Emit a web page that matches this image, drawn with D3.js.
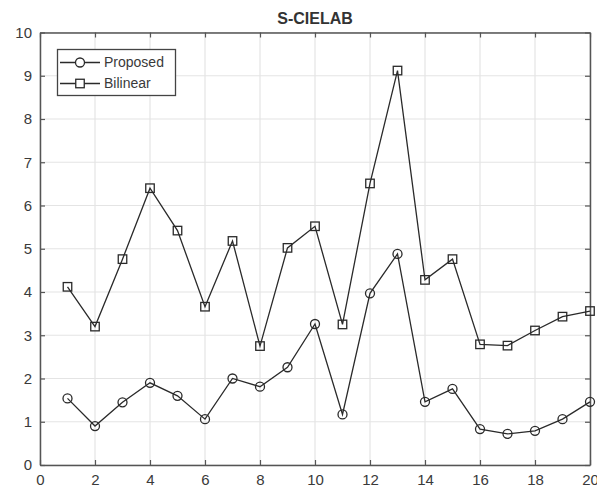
<!DOCTYPE html>
<html>
<head>
<meta charset="utf-8">
<script src="https://cdn.jsdelivr.net/npm/d3@7"></script>
<style>
  html, body { margin: 0; padding: 0; background: #fff; }
  svg text { font-family: "Liberation Sans", Arial, Helvetica, sans-serif; }
</style>
</head>
<body>
<div id="chart"></div>
<script>
// Image index 1..20
const imageIndex = d3.range(1, 21);
const proposed = [1.54, 0.90, 1.45, 1.90, 1.60, 1.06, 2.00, 1.81, 2.26, 3.26,
                  1.17, 3.97, 4.88, 1.46, 1.76, 0.83, 0.72, 0.79, 1.06, 1.46];
const bilinear = [4.12, 3.20, 4.76, 6.40, 5.42, 3.66, 5.18, 2.75, 5.02, 5.52,
                  3.25, 6.51, 9.12, 4.28, 4.76, 2.79, 2.76, 3.11, 3.43, 3.56];
const xTicks = [0, 2, 4, 6, 8, 10, 12, 14, 16, 18, 20];
const yTicks = [0, 1, 2, 3, 4, 5, 6, 7, 8, 9, 10];
const seriesNames = ["Proposed", "Bilinear"];
const chartTitle = "S-CIELAB";

const W = 597, H = 495;
const margin = { left: 40, right: 7, top: 32.5, bottom: 30 };
const iw = W - margin.left - margin.right;
const ih = H - margin.top - margin.bottom;

const svg = d3.select("#chart").append("svg")
  .attr("width", W).attr("height", H);

const x = d3.scaleLinear().domain([0, 20]).range([margin.left, margin.left + iw]);
const y = d3.scaleLinear().domain([0, 10]).range([margin.top + ih, margin.top]);

const textColor = "#3a3a3a";
const axisColor = "#555";

// grid
const grid = svg.append("g");
grid.selectAll("line.gx").data(xTicks).join("line")
  .attr("x1", d => x(d)).attr("x2", d => x(d))
  .attr("y1", y(0)).attr("y2", y(10))
  .attr("stroke", "#e4e4e4").attr("stroke-width", 1.2);
grid.selectAll("line.gy").data(yTicks).join("line")
  .attr("y1", d => y(d)).attr("y2", d => y(d))
  .attr("x1", x(0)).attr("x2", x(20))
  .attr("stroke", "#e4e4e4").attr("stroke-width", 1.2);

// axes with inward ticks on all four sides
const tickLen = 5;
const axB = svg.append("g").attr("transform", `translate(0,${y(0)})`)
  .call(d3.axisBottom(x).tickValues(xTicks).tickSizeInner(-tickLen).tickSizeOuter(0).tickPadding(9));
const axT = svg.append("g").attr("transform", `translate(0,${y(10)})`)
  .call(d3.axisTop(x).tickValues(xTicks).tickSizeInner(-tickLen).tickSizeOuter(0).tickFormat(""));
const axL = svg.append("g").attr("transform", `translate(${x(0)},0)`)
  .call(d3.axisLeft(y).tickValues(yTicks).tickSizeInner(-tickLen).tickSizeOuter(0).tickPadding(8));
const axR = svg.append("g").attr("transform", `translate(${x(20)},0)`)
  .call(d3.axisRight(y).tickValues(yTicks).tickSizeInner(-tickLen).tickSizeOuter(0).tickFormat(""));

[axB, axT, axL, axR].forEach(a => {
  a.select(".domain").attr("stroke", axisColor).attr("stroke-width", 1.5);
  a.selectAll(".tick line").attr("stroke", axisColor).attr("stroke-width", 1.2);
  a.selectAll(".tick text").attr("fill", textColor).attr("font-size", 15);
});

// title
svg.append("text")
  .attr("x", x(10)).attr("y", 23.5)
  .attr("text-anchor", "middle")
  .attr("font-size", 16)
  .attr("font-weight", "bold")
  .attr("fill", "#333")
  .text(chartTitle);

const line = d3.line().x((d, i) => x(imageIndex[i])).y(d => y(d));
const lineColor = "#2a2a2a";
const lw = 1.3;

function drawSeries(vals, shape) {
  const g = svg.append("g");
  g.append("path").datum(vals)
    .attr("d", line)
    .attr("fill", "none").attr("stroke", lineColor).attr("stroke-width", lw);
  if (shape === "circle") {
    g.selectAll("circle").data(vals).join("circle")
      .attr("cx", (d, i) => x(imageIndex[i])).attr("cy", d => y(d)).attr("r", 4.5)
      .attr("fill", "none").attr("stroke", lineColor).attr("stroke-width", lw);
  } else {
    const s = 8.5;
    g.selectAll("rect").data(vals).join("rect")
      .attr("x", (d, i) => x(imageIndex[i]) - s / 2).attr("y", d => y(d) - s / 2)
      .attr("width", s).attr("height", s)
      .attr("fill", "none").attr("stroke", lineColor).attr("stroke-width", lw);
  }
}
drawSeries(proposed, "circle");
drawSeries(bilinear, "square");

// legend
const lg = svg.append("g");
lg.append("rect")
  .attr("x", 57.5).attr("y", 49.5).attr("width", 118).attr("height", 46)
  .attr("fill", "#fff").attr("stroke", "#444").attr("stroke-width", 1.3);
const entries = [
  { name: seriesNames[0], shape: "circle", cy: 62.5 },
  { name: seriesNames[1], shape: "square", cy: 83.5 }
];
entries.forEach(e => {
  lg.append("line").attr("x1", 60).attr("x2", 100).attr("y1", e.cy).attr("y2", e.cy)
    .attr("stroke", lineColor).attr("stroke-width", lw);
  if (e.shape === "circle") {
    lg.append("circle").attr("cx", 80).attr("cy", e.cy).attr("r", 4.5)
      .attr("fill", "#fff").attr("stroke", lineColor).attr("stroke-width", lw);
  } else {
    lg.append("rect").attr("x", 75.75).attr("y", e.cy - 4.25).attr("width", 8.5).attr("height", 8.5)
      .attr("fill", "#fff").attr("stroke", lineColor).attr("stroke-width", lw);
  }
  lg.append("text").attr("x", 104).attr("y", e.cy).attr("dy", "0.35em")
    .attr("font-size", 14).attr("fill", textColor).text(e.name);
});
</script>
</body>
</html>
